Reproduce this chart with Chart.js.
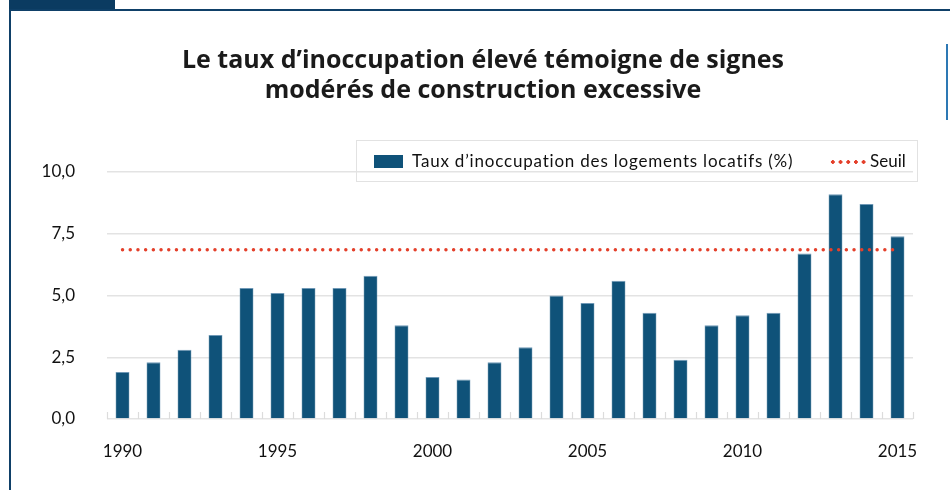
<!DOCTYPE html>
<html><head><meta charset="utf-8">
<script src="https://cdn.jsdelivr.net/npm/chart.js@4/dist/chart.umd.min.js"></script>
<style>
html,body{margin:0;padding:0;background:#fff;width:950px;height:490px;overflow:hidden;font-family:"Lato","Open Sans",sans-serif;}
#wrap{position:relative;width:950px;height:490px;}
#c{position:absolute;left:0;top:0;}
.tab{position:absolute;left:9px;top:0;width:106px;height:9px;background:#0b3b61;}
.topline{position:absolute;left:9px;top:9px;width:941px;height:2px;background:#0f4068;}
.leftline{position:absolute;left:9px;top:9px;width:2px;height:481px;background:#0f4068;}
.rightline{position:absolute;left:946px;top:44px;width:2px;height:76px;background:#2d78b4;}
#title{position:absolute;left:83px;width:800px;top:43px;text-align:center;font-family:"Open Sans",sans-serif;font-weight:700;font-size:25px;line-height:30px;color:#1a1a1a;}
#legend{position:absolute;left:356px;top:140px;width:562px;height:42px;border:1px solid #e2e2e2;box-sizing:border-box;font-size:17px;color:#111;}
#legend .sw{position:absolute;left:17px;top:14px;width:29px;height:13px;background:#0f5279;}
#legend .t1{position:absolute;left:55px;top:9px;white-space:nowrap;letter-spacing:0.8px;}
#legend .dots{position:absolute;left:472px;top:19px;width:40px;height:4px;background-image:radial-gradient(circle,#e4402b 1.6px,transparent 1.9px);background-size:7.7px 4px;background-repeat:repeat-x;}
#legend .t2{position:absolute;left:513px;top:9px;white-space:nowrap;}
</style></head>
<body><div id="wrap">
<canvas id="c" width="950" height="490"></canvas>
<div class="tab"></div><div class="topline"></div><div class="leftline"></div><div class="rightline"></div>
<div id="title">Le taux d’inoccupation élevé témoigne de signes<br>modérés de construction excessive</div>
<div id="legend"><div class="sw"></div><span class="t1">Taux d’inoccupation des logements locatifs (%)</span><div class="dots"></div><span class="t2">Seuil</span></div>
</div>
<script>
const years = ["1990","1991","1992","1993","1994","1995","1996","1997","1998","1999","2000","2001","2002","2003","2004","2005","2006","2007","2008","2009","2010","2011","2012","2013","2014","2015"];
const vacancyRate = [1.9,2.3,2.8,3.4,5.3,5.1,5.3,5.3,5.8,3.8,1.7,1.6,2.3,2.9,5.0,4.7,5.6,4.3,2.4,3.8,4.2,4.3,6.7,9.1,8.7,7.4];
const threshold = [6.85,6.85,6.85,6.85,6.85,6.85,6.85,6.85,6.85,6.85,6.85,6.85,6.85,6.85,6.85,6.85,6.85,6.85,6.85,6.85,6.85,6.85,6.85,6.85,6.85,6.85];
const yTicks = [0,2.5,5,7.5,10];
const shownYears = ["1990","1995","2000","2005","2010","2015"];

const innerTicks = {
  id:'innerTicks',
  beforeDatasetsDraw(chart){
    const x = chart.scales.x, ctx = chart.ctx, y0 = chart.scales.y.getPixelForValue(0);
    ctx.save();
    ctx.strokeStyle = '#dcdcdc'; ctx.lineWidth = 1.2;
    for(let i=0;i<=years.length;i++){
      const px = Math.round(x.getPixelForValue(i-0.5))+0.5;
      ctx.beginPath(); ctx.moveTo(px,y0); ctx.lineTo(px,y0-7); ctx.stroke();
    }
    ctx.restore();
  }
};

new Chart(document.getElementById('c'),{
  data:{
    labels: years,
    datasets:[
      {type:'line', label:'Seuil', data:threshold, borderColor:'#e4402b', borderWidth:3.4, borderDash:[0.1,7.6], borderCapStyle:'round', pointRadius:0, fill:false, order:0},
      {type:'bar', label:'Taux d’inoccupation des logements locatifs (%)', data:vacancyRate, backgroundColor:'#0f5279', borderColor:'#6f98b6', borderWidth:{top:1,left:0.6,right:0.6,bottom:0}, barPercentage:0.45, categoryPercentage:1, order:1}
    ]
  },
  options:{
    responsive:false, animation:false, devicePixelRatio:1,
    layout:{padding:{left:0,right:37,top:172,bottom:0}},
    plugins:{legend:{display:false}, title:{display:false}, tooltip:{enabled:false}},
    scales:{
      x:{
        offset:true,
        grid:{display:false},
        border:{display:false},
        afterFit(s){ s.height = 71; },
        ticks:{autoSkip:false, maxRotation:0, padding:14, color:'#111', font:{family:'Lato', size:17},
          callback(v,i){ const l = years[i]; return shownYears.includes(l) ? l : ''; }}
      },
      y:{
        min:0, max:10,
        afterFit(s){ s.width = 107; },
        afterBuildTicks(s){ s.ticks = yTicks.map(v=>({value:v})); },
        grid:{color:'#e3e3e3', lineWidth:1.5, drawTicks:false},
        border:{display:false},
        ticks:{padding:32, color:'#111', font:{family:'Lato', size:17},
          callback(v){ return v.toFixed(1).replace('.',','); }}
      }
    }
  },
  plugins:[innerTicks]
});
</script>
</body></html>
